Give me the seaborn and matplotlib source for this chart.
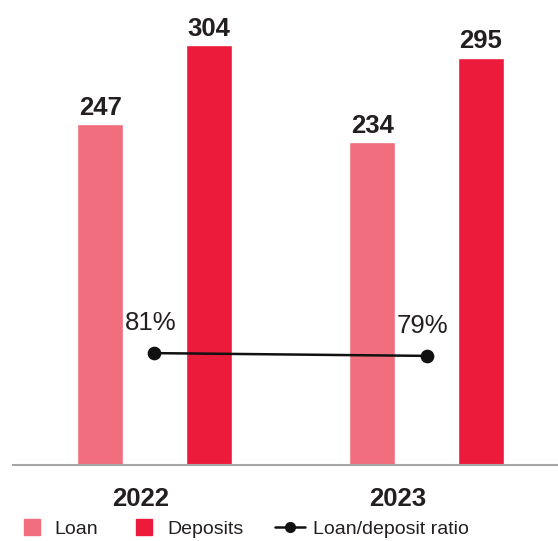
import matplotlib
matplotlib.use("Agg")
import matplotlib.pyplot as plt
from matplotlib.lines import Line2D
import seaborn as sns
import pandas as pd

years = ["2022", "2023"]
loan = [247, 234]
deposits = [304, 295]
ratio = [81, 79]

LOAN_COLOR = "#F06E7D"
DEP_COLOR = "#ED1B3B"
TEXT_COLOR = "#231F20"

sns.set_theme(style="white")
plt.rcParams["font.family"] = ["Liberation Sans", "DejaVu Sans"]

df = pd.DataFrame({
    "year": years * 2,
    "series": ["Loan"] * len(years) + ["Deposits"] * len(years),
    "value": loan + deposits,
})

fig = plt.figure(figsize=(5.58, 5.41), dpi=100)
ax = fig.add_axes([0.0233, 0.1405, 0.9767, 0.8595])

sns.barplot(data=df, x="year", y="value", hue="series",
            palette={"Loan": LOAN_COLOR, "Deposits": DEP_COLOR},
            gap=0.577, width=0.8, saturation=1, legend=False, ax=ax)

for cont in ax.containers:
    ax.bar_label(cont, fmt="%d", padding=3, fontsize=18.5, fontweight="bold",
                 color=TEXT_COLOR)

sns.pointplot(x=years, y=ratio, color="#111111", markers="o", markersize=8.5,
              linewidth=1.8, errorbar=None, ax=ax, zorder=5)

for i, r in enumerate(ratio):
    ax.annotate(f"{r}%", (i, r), xytext=(-3, 13), textcoords="offset points",
                ha="center", va="bottom", fontsize=18.5, color=TEXT_COLOR)

ax.set_xlim(-0.520, 1.483)
ax.set_ylim(0, 336.7)
ax.set_xlabel("")
ax.set_ylabel("")
ax.set_yticks([])
ax.set_xticks([-0.0515, 0.892])
ax.set_xticklabels(years, fontsize=18.5, fontweight="bold", color=TEXT_COLOR)
ax.tick_params(axis="x", length=0, pad=16)
for side in ["top", "left", "right"]:
    ax.spines[side].set_visible(False)
ax.spines["bottom"].set_color("#A6A6A6")
ax.spines["bottom"].set_linewidth(1.5)

handles = [
    Line2D([], [], marker="s", linestyle="none", markersize=12.2,
           markerfacecolor=LOAN_COLOR, markeredgecolor=LOAN_COLOR),
    Line2D([], [], marker="s", linestyle="none", markersize=12.2,
           markerfacecolor=DEP_COLOR, markeredgecolor=DEP_COLOR),
    Line2D([], [], color="#111111", marker="o", markersize=7, linewidth=1.8),
]
fig.legend(handles, ["Loan", "Deposits", "Loan/deposit ratio"],
           loc="center left", bbox_to_anchor=(0.03, 0.022), ncol=3,
           frameon=False, handlelength=1.55, handletextpad=0.4,
           columnspacing=1.6, borderpad=0, borderaxespad=0,
           prop={"family": ["Liberation Sans", "DejaVu Sans"], "size": 14},
           labelcolor=TEXT_COLOR)

fig.savefig("out.png", dpi=100)
